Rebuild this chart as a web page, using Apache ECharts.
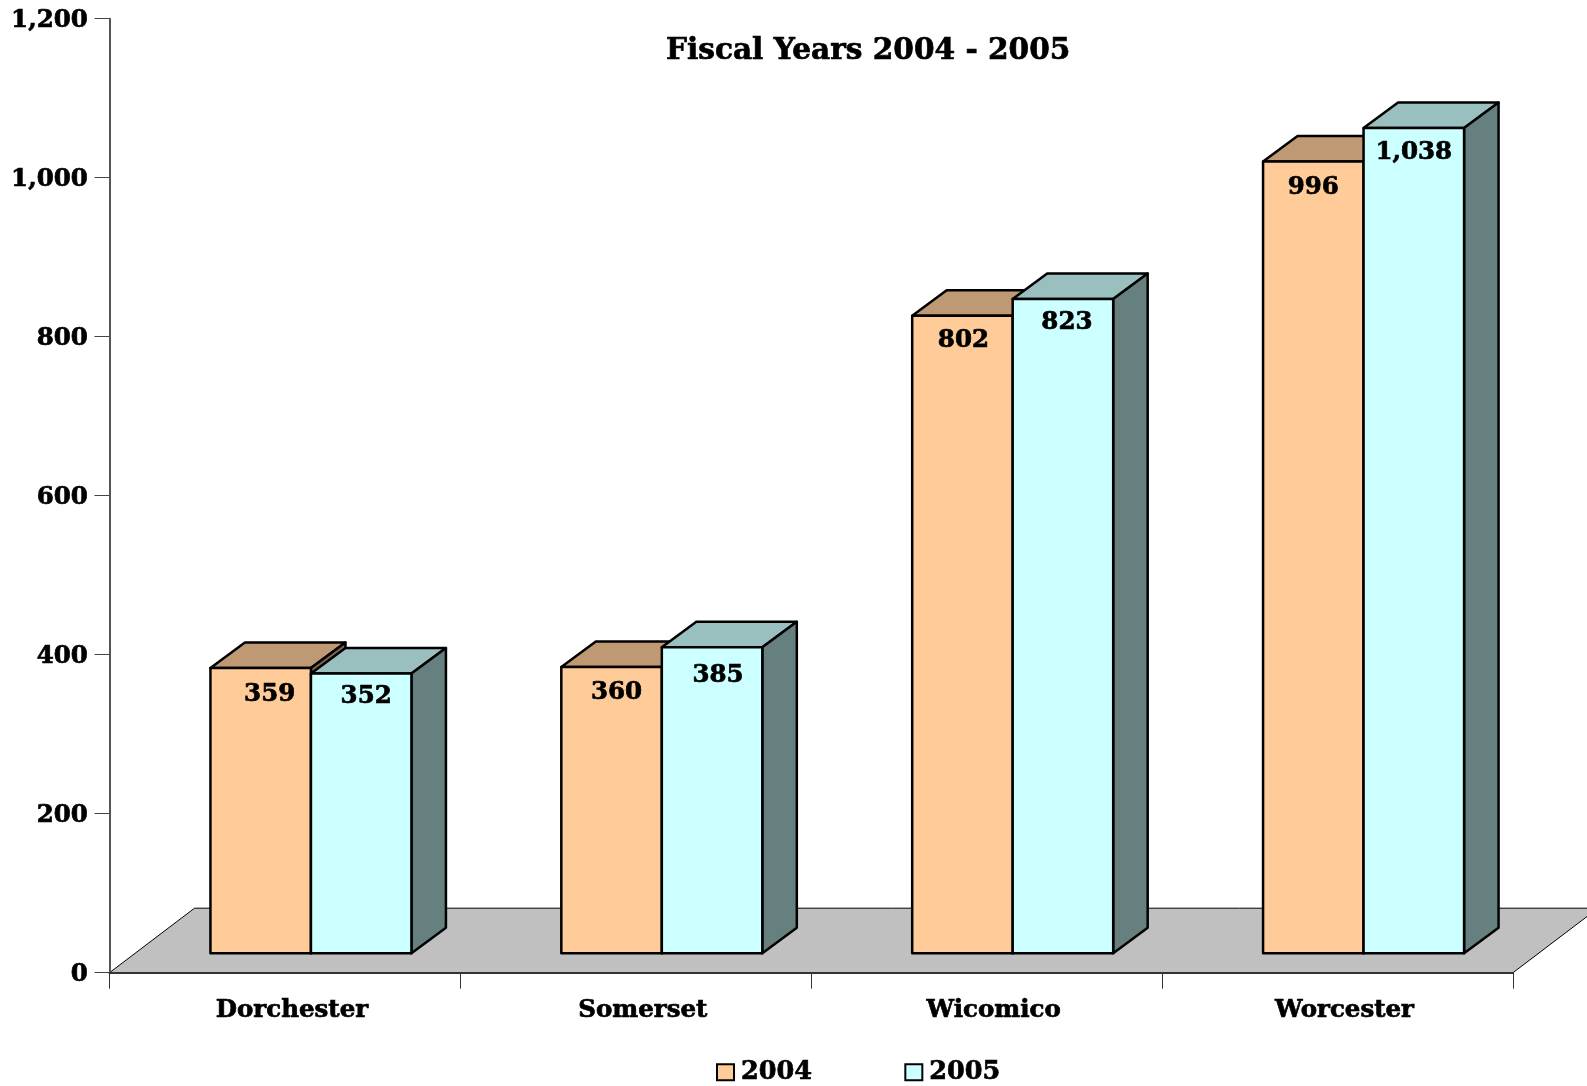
<!DOCTYPE html>
<html><head><meta charset="utf-8">
<style>html,body{margin:0;padding:0;background:#fff}#c{width:1587px;height:1086px}</style>
<script src="https://cdn.jsdelivr.net/npm/echarts@6/dist/echarts.min.js"></script>
</head><body><div id="c"></div>
<script>
const categories = ['Dorchester','Somerset','Wicomico','Worcester'];
const values2004 = [359,360,802,996];
const values2005 = [352,385,823,1038];
const yTicks = {min:0,max:1200,interval:200};
const titleText = 'Fiscal Years 2004 - 2005';
const FONT = '"DejaVu Serif"';
// per-label nudges seen in the reference (x, y in px relative to bar centre / top)
const nudge2004 = [[9,27],[5,26],[1,25],[0,26]];
const nudge2005 = [[5,23],[6,28],[4,24],[0,25]];
const FLOOR_DX=85, FLOOR_DY=64.5, BAR_LIFT=19.4, BAR_SHIFT=26, BAR_W=100.5, BAR_DX=34.5, BAR_DY=25.5;
const HEAVY={textBorderColor:'#000',textBorderWidth:0.7};

function poly(points, fill, lw, stroke){
  return {type:'polygon',shape:{points},style:{fill,stroke:stroke||'#000',lineWidth:lw==null?2.5:lw,lineJoin:'round'}};
}
function barSeries(name, values, front, top, side, dir, nudge){
  return {type:'custom',name,z:3,silent:true,clip:false,
    data:values.map((v,i)=>[i,v]),encode:{x:0,y:1},
    itemStyle:{color:front},
    renderItem(params,api){
      const i=api.value(0), v=api.value(1);
      const c=api.coord([i,0]), t=api.coord([i,v]);
      const mid=c[0]+BAR_SHIFT;
      const x0=dir<0?mid-BAR_W:mid, x1=x0+BAR_W;
      const yb=c[1]-BAR_LIFT, yt=t[1]-BAR_LIFT;
      return {type:'group',children:[
        poly([[x0,yt],[x0+BAR_DX,yt-BAR_DY],[x1+BAR_DX,yt-BAR_DY],[x1,yt]],top),
        poly([[x1,yt],[x1+BAR_DX,yt-BAR_DY],[x1+BAR_DX,yb-BAR_DY],[x1,yb]],side),
        poly([[x0,yt],[x1,yt],[x1,yb],[x0,yb]],front),
        {type:'text',style:{text:values[i].toLocaleString('en-US'),x:(x0+x1)/2+nudge[i][0],y:yt+nudge[i][1],
          align:'center',verticalAlign:'middle',fill:'#000',stroke:'#000',lineWidth:0.7,font:'bold 24.5px '+FONT}}
      ]};
    }};
}
const floorSeries={type:'custom',name:'floor',z:1,silent:true,clip:false,data:[[0,0]],encode:{x:0,y:1},
  renderItem(params,api){
    const band=api.size([1,0])[0];
    const l=api.coord([0,0]), r=api.coord([categories.length-1,0]);
    const x0=l[0]-band/2, x1=r[0]+band/2, y=l[1];
    return poly([[x0,y],[x0+FLOOR_DX,y-FLOOR_DY],[x1+FLOOR_DX,y-FLOOR_DY],[x1,y]],'#C0C0C0',1);
  }};
const axisText={fontFamily:FONT,fontWeight:'bold',fontSize:24.5,color:'#000',...HEAVY};
const chart=echarts.init(document.getElementById('c'),null,{renderer:'canvas'});
chart.setOption({
  animation:false,backgroundColor:'#fff',
  title:{text:titleText,left:666,top:36,padding:0,textStyle:{fontFamily:FONT,fontWeight:'bold',fontSize:29.6,color:'#000',...HEAVY}},
  grid:{left:109.5,right:74,top:18.7,bottom:113.3,containLabel:false},
  legend:{left:716,top:1059,padding:0,itemWidth:17,itemHeight:16,itemGap:92,selectedMode:false,
    data:[
      {name:'2004',icon:'rect',itemStyle:{color:'#FFCC99',borderColor:'#000',borderWidth:2}},
      {name:'2005',icon:'rect',itemStyle:{color:'#CCFFFF',borderColor:'#000',borderWidth:2}}],
    textStyle:{...axisText,fontSize:25.5,padding:[0,0,0,2]}},
  xAxis:{type:'category',data:categories,z:2,
    axisLine:{lineStyle:{color:'#333',width:2}},
    axisTick:{show:true,length:16,lineStyle:{color:'#333',width:1}},
    axisLabel:{...axisText,margin:25,padding:[0,0,0,14],interval:0},
    splitLine:{show:false}},
  yAxis:{type:'value',...yTicks,z:2,
    axisLine:{show:true,lineStyle:{color:'#555',width:2}},
    axisTick:{show:true,length:15,lineStyle:{color:'#444',width:1}},
    axisLabel:{...axisText,margin:21.7,verticalAlign:'top',lineHeight:4,formatter:v=>v.toLocaleString('en-US')},
    splitLine:{show:false}},
  series:[floorSeries,
    barSeries('2004',values2004,'#FFCC99','#BF9973','#806650',-1,nudge2004),
    barSeries('2005',values2005,'#CCFFFF','#99BFBF','#668080',1,nudge2005)]
});
</script></body></html>
